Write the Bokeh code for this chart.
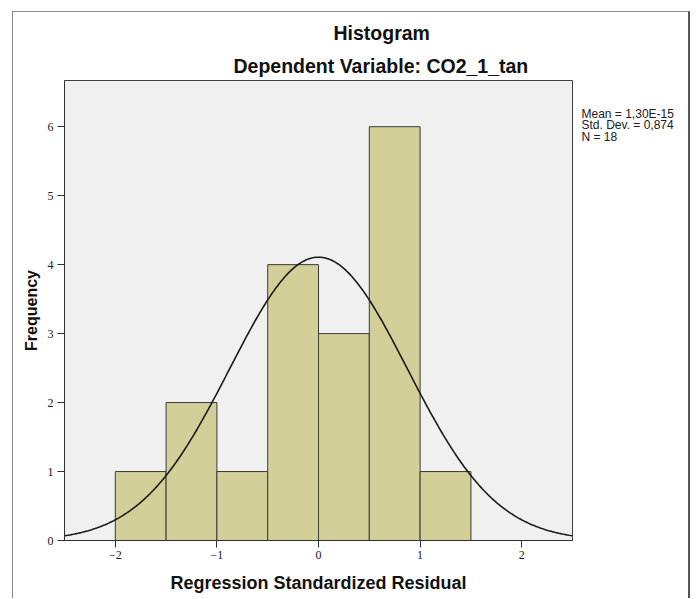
import numpy as np
from bokeh.plotting import figure
from bokeh.models import Label, FixedTicker, Title
from bokeh.embed import file_html
from bokeh.resources import INLINE

# Data
bin_left = [-2.0, -1.5, -1.0, -0.5, 0.0, 0.5, 1.0]
bin_right = [-1.5, -1.0, -0.5, 0.0, 0.5, 1.0, 1.5]
counts = [1, 2, 1, 4, 3, 6, 1]
mean_val = 1.30e-15
std_val = 0.874
n_val = 18
bin_width = 0.5
x_ticks = [-2, -1, 0, 1, 2]
y_ticks = [0, 1, 2, 3, 4, 5, 6]
stats = ["Mean = 1,30E-15", "Std. Dev. = 0,874", "N = 18"]

p = figure(width=678, height=587, x_range=(-2.5, 2.5), y_range=(0, 6.67),
           output_backend="svg", toolbar_location=None,
           min_border_left=51, min_border_right=119, min_border_top=68, min_border_bottom=59)
p.styles = {"border-left": "1px solid #8a8a8a", "border-top": "1px solid #8a8a8a",
            "border-right": "2px solid #555555", "margin-left": "12px", "margin-top": "11px"}

p.background_fill_color = "#f0f0f0"
p.border_fill_color = "white"
p.outline_line_color = "#404040"
p.outline_line_width = 1
p.grid.visible = False

p.quad(left=bin_left, right=bin_right, bottom=0, top=counts,
       fill_color="#d2cf98", line_color="#3a3a3a", line_width=1)

xs = np.linspace(-2.5, 2.5, 300)
ys = n_val * bin_width / (std_val * np.sqrt(2 * np.pi)) * np.exp(-0.5 * ((xs - mean_val) / std_val) ** 2)
p.line(xs, ys, line_color="#1a1a1a", line_width=1.6)

for ax in (p.xaxis[0], p.yaxis[0]):
    ax.axis_line_color = "#303030"
    ax.major_tick_line_color = "#303030"
    ax.major_tick_out = 7
    ax.major_tick_in = 0
    ax.minor_tick_line_color = None
    ax.major_label_text_font = "Liberation Serif"
    ax.major_label_text_font_size = "12px"
    ax.major_label_text_color = "#202020"
    ax.axis_label_text_font = "Liberation Sans"
    ax.axis_label_text_font_style = "bold"
    ax.axis_label_text_color = "#111111"

p.xaxis.ticker = FixedTicker(ticks=x_ticks)
p.yaxis.ticker = FixedTicker(ticks=y_ticks)
p.xaxis.axis_label = "Regression Standardized Residual"
p.yaxis.axis_label = "Frequency"
p.xaxis.axis_label_text_font_size = "18px"
p.yaxis.axis_label_text_font_size = "16px"
p.xaxis.major_label_standoff = 3
p.xaxis.axis_label_standoff = 11
p.yaxis.major_label_standoff = 4
p.yaxis.axis_label_standoff = 5

# Titles
sub = Title(text="Dependent Variable: CO2_1_tan", align="left", offset=169, standoff=7,
            text_font="Liberation Sans", text_font_style="bold", text_font_size="19.5px",
            text_color="#111111")
main = Title(text="Histogram", align="left", offset=269, standoff=12,
             text_font="Liberation Sans", text_font_style="bold", text_font_size="19.5px",
             text_color="#111111")
p.add_layout(sub, "above")
p.add_layout(main, "above")

p.add_layout(Label(x=9, y=434, x_units="screen", y_units="screen", text="\n".join(stats),
                   text_align="left", text_baseline="top", text_line_height=0.85,
                   text_font="Liberation Sans", text_font_size="12px", text_color="#202020"),
             "right")

open("out.html", "w").write(file_html(p, INLINE))
